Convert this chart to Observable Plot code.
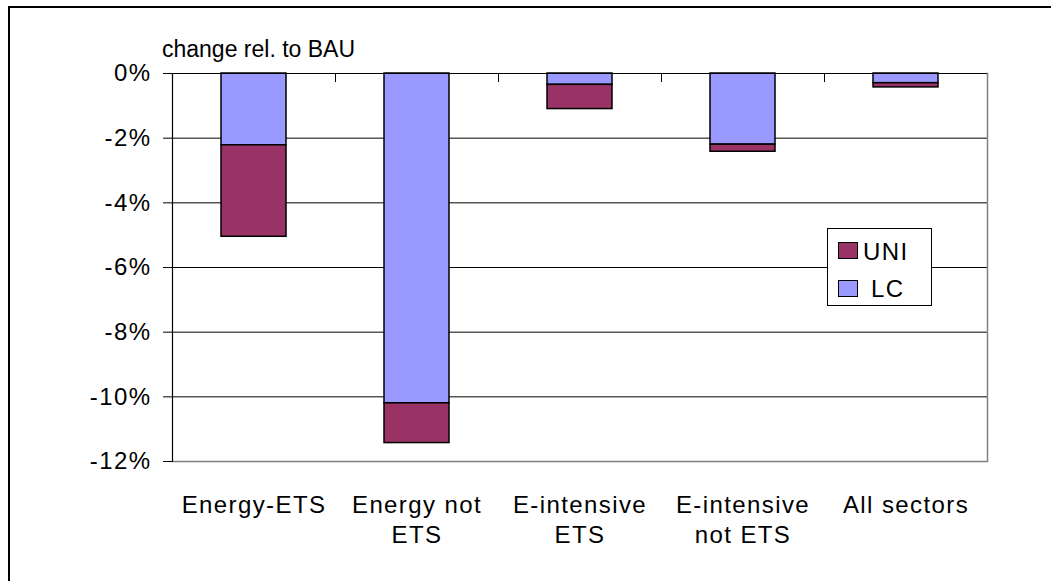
<!DOCTYPE html>
<html>
<head>
<meta charset="utf-8">
<script src="https://cdn.jsdelivr.net/npm/d3@7"></script>
<script src="https://cdn.jsdelivr.net/npm/@observablehq/plot@0.6"></script>
<style>
  html, body { margin: 0; padding: 0; background: #fff; overflow: hidden; }
  #wrap { position: relative; width: 1051px; height: 581px; font-family: "Liberation Sans", Arial, sans-serif; color: #000; }
  #outer { position: absolute; left: 8px; top: 6px; width: 1200px; height: 800px; border-left: 2px solid #000; border-top: 2px solid #000; }
  #chart { position: absolute; left: 0; top: 0; }
  #chart svg text { letter-spacing: 1.4px; }
  #ytitle { position: absolute; left: 162px; top: 38px; font-size: 23px; line-height: 23px; white-space: nowrap; }
  #legend { position: absolute; left: 827px; top: 228px; width: 103px; height: 76px; border: 1px solid #000; background: #fff; font-size: 24px; letter-spacing: 1.4px; }
  .sw { position: absolute; width: 18px; height: 15px; border: 1px solid #000; }
  .lt { position: absolute; line-height: 24px; white-space: nowrap; }
</style>
</head>
<body>
<div id="wrap">
  <div id="outer"></div>
  <div id="chart"></div>
  <div id="ytitle">change rel. to BAU</div>
  <div id="legend"></div>
</div>
<script>
// ---- data ----
const categories = ["Energy-ETS", "Energy not ETS", "E-intensive ETS", "E-intensive not ETS", "All sectors"];
const categoryLabels = ["Energy-ETS", "Energy not\nETS", "E-intensive\nETS", "E-intensive\nnot ETS", "All sectors"];
const lcValues = [-2.22, -10.2, -0.35, -2.2, -0.3];   // % change rel. to BAU
const uniValues = [-2.83, -1.23, -0.75, -0.22, -0.13];
const yTicks = [0, -2, -4, -6, -8, -10, -12];
const seriesNames = ["UNI", "LC"];
const seriesColors = ["#993366", "#9999FF"];

const data = [];
categories.forEach((c, i) => {
  data.push({category: c, series: "LC", value: lcValues[i]});
  data.push({category: c, series: "UNI", value: uniValues[i]});
});

const W = 1051, H = 581, ML = 172, MT = 73, MR = 64, MB = 120;
const step = (W - ML - MR) / categories.length;
const fontFamily = '"Liberation Sans", Arial, sans-serif';

const chart = Plot.plot({
  width: W, height: H,
  marginLeft: ML, marginTop: MT, marginRight: MR, marginBottom: MB,
  style: {fontFamily, fontSize: "24px", color: "#000", background: "transparent"},
  x: {domain: categories, paddingInner: 0.6, paddingOuter: 0.3},
  y: {domain: [-12, 0]},
  color: {domain: seriesNames, range: seriesColors},
  marks: [
    Plot.gridY(yTicks.filter(d => d !== -12 && d !== 0), {stroke: "#000", strokeOpacity: 1, strokeWidth: 1}),
    Plot.ruleY([-12], {stroke: "#808080", strokeWidth: 1.5}),
    Plot.frame({anchor: "right", stroke: "#808080", strokeWidth: 1.5}),
    Plot.barY(data, {x: "category", y: "value", fill: "series", stroke: "#000", strokeWidth: 1.5, order: ["LC", "UNI"]}),
    Plot.frame({anchor: "left", stroke: "#000", strokeWidth: 1.2}),
    Plot.ruleY([0], {stroke: "#000", strokeWidth: 1.2}),
    Plot.ruleX(categories.slice(0, -1), {x: d => d, dx: step / 2, y1: 0, y2: -0.28, stroke: "#000", strokeWidth: 1}),
    Plot.axisY(yTicks, {tickSize: 9, tickPadding: 12, tickFormat: d => `${d}%`, label: null, fontSize: 24, stroke: "#000"}),
    Plot.axisX({anchor: "bottom", tickSize: 0, tickPadding: 30, label: null, fontSize: 24, lineHeight: 1.25,
      tickFormat: d => categoryLabels[categories.indexOf(d)]})
  ]
});
document.getElementById("chart").appendChild(chart);

// legend (UNI first, LC second)
const legend = document.getElementById("legend");
const legendRows = [
  {name: seriesNames[0], color: seriesColors[0], swTop: 13, textLeft: 35, textTop: 11},
  {name: seriesNames[1], color: seriesColors[1], swTop: 51, textLeft: 43, textTop: 48}
];
legendRows.forEach(r => {
  const sw = document.createElement("div");
  sw.className = "sw";
  sw.style.left = "10px";
  sw.style.top = r.swTop + "px";
  sw.style.background = r.color;
  legend.appendChild(sw);
  const t = document.createElement("div");
  t.className = "lt";
  t.style.left = r.textLeft + "px";
  t.style.top = r.textTop + "px";
  t.textContent = r.name;
  legend.appendChild(t);
});
</script>
</body>
</html>
